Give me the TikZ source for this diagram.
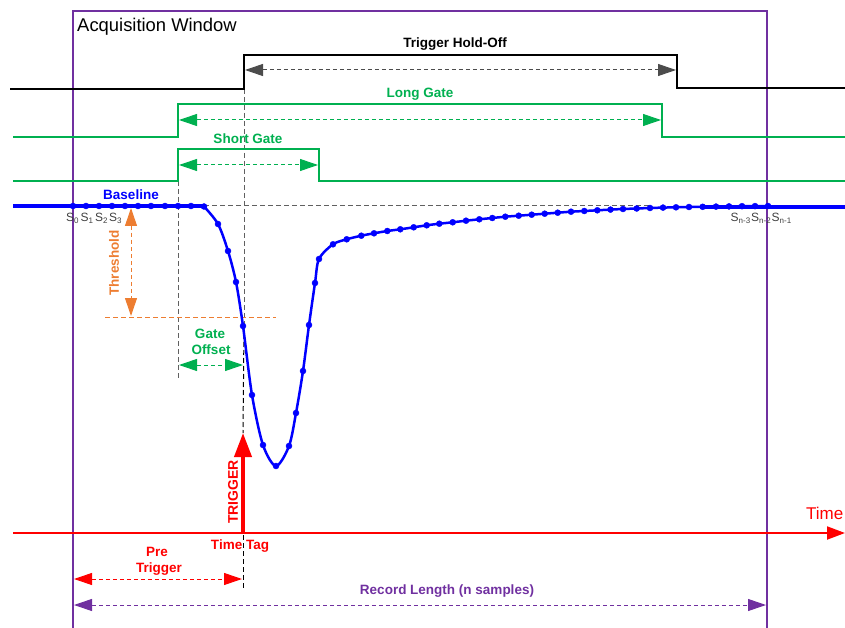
\documentclass[tikz,border=0pt]{standalone}
\usepackage{fontspec}
\setmainfont{Liberation Sans}
\usetikzlibrary{arrows.meta}
\definecolor{cgreen}{HTML}{00B050}
\definecolor{cblue}{HTML}{0000FF}
\definecolor{corange}{HTML}{ED7D31}
\definecolor{cred}{HTML}{FF0000}
\definecolor{cpurple}{HTML}{7030A0}
\definecolor{cgray}{HTML}{606060}
\newcommand{\smp}[1]{S{\fontsize{8}{9}\selectfont\raisebox{-2pt}{#1}}}
\begin{document}
\begin{tikzpicture}[x=1pt,y=-1pt,
  lbl/.style={font=\fontsize{13.5}{15}\selectfont\bfseries, inner sep=0pt},
  slbl/.style={font=\fontsize{12}{14}\selectfont, text=black!75, inner sep=0pt, anchor=base west},
  dimarrow/.style={line width=1pt, dash pattern=on 4pt off 3pt, {Triangle[length=18pt,width=12pt]}-{Triangle[length=18pt,width=12pt]}},
  guide/.style={line width=1pt, cgray, dash pattern=on 5pt off 3pt},
  signal/.style={line width=2pt},
  dots/.style={mark=*, mark size=3pt, mark options={cblue, line width=0.4pt}}
]
\useasboundingbox (0,0) rectangle (845,628);
\clip (0,0) rectangle (845,628);

% acquisition window
\draw[cpurple, line width=2pt] (73,640) -- (73,11) -- (767,11) -- (767,640);
\node[font=\fontsize{18.4}{20}\selectfont, inner sep=0pt] (acq) at (157,27) {Acquisition Window};

% coordinates
\coordinate (hoL) at (245,70);  \coordinate (hoR) at (676,70);
\coordinate (lgL) at (179,120); \coordinate (lgR) at (661,120);
\coordinate (sgL) at (179,165); \coordinate (sgR) at (318,165);
\coordinate (goL) at (179,365); \coordinate (goR) at (243,365);
\coordinate (thT) at (131,208); \coordinate (thB) at (131,316);
\coordinate (ptL) at (74,579);  \coordinate (ptR) at (242,579);
\coordinate (rlL) at (74,605);  \coordinate (rlR) at (766,605);
\coordinate (axL) at (13,533);  \coordinate (axR) at (845,533);
\coordinate (trB) at (243,533); \coordinate (trT) at (243,433);

% guide lines
\draw[guide] (178,181) -- (178,380);
\draw[guide] (244,89) -- (244,326);
\draw[guide, black] (244,326) -- (trT);
\draw[guide, black] (243,535) -- (243,588);
\draw[guide] (204,206) -- (650,206);
\draw[corange, line width=1pt, dash pattern=on 5pt off 3pt] (105,317) -- (276,317);

% trigger hold-off
\draw[signal, black, line width=1.8pt] (10,89) -- (244,89) -- (244,55) -- (677,55) -- (677,88) -- (845,88);
\draw[dimarrow, black!70] (hoL) -- (hoR);
\node[lbl] (holbl) at (455,44) {Trigger Hold-Off};

% long gate
\draw[signal, cgreen] (13,137) -- (178,137) -- (178,104) -- (662,104) -- (662,137) -- (845,137);
\draw[dimarrow, cgreen] (lgL) -- (lgR);
\node[lbl, text=cgreen] (lglbl) at (420,94) {Long Gate};

% short gate
\draw[signal, cgreen] (13,181) -- (178,181) -- (178,149) -- (319,149) -- (319,181) -- (845,181);
\draw[dimarrow, cgreen] (sgL) -- (sgR);
\node[lbl, text=cgreen] (sglbl) at (248,138.5) {Short Gate};

% baseline and pulse
\draw[cblue, line width=4pt] (13,206) -- (204,206);
\draw[cblue, line width=4pt] (700,206.7) -- (845,206.7);
\draw[cblue, line width=0pt, draw=none] plot[only marks, dots] coordinates {(73,206) (86,206) (99,206) (112,206) (125,206) (138,206) (151,206) (165,206) (178,206) (191,206)};
\draw[cblue, line width=2.5pt, dots] plot[smooth, tension=0.5] coordinates {(204,206.5) (218,224) (228,251) (236,282) (243,326) (252,395) (263,445) (276,466) (289,446) (296,413) (303,371) (309,325) (315,283) (319,259) (333,244.3) (346.7,239.3) (361.3,235.7) (374,233.3) (387.3,231) (400.3,229.3) (413.7,227.3) (426.7,225.3) (439.3,223.7) (452.7,222.3) (466,220.7) (479.3,219.3) (492.3,218) (505.3,216.7) (518.7,215.7) (531.7,214.7) (544.7,213.7) (557.7,212.7) (571,211.7) (584.3,211) (597.3,210.3) (610.5,209.6) (623,209) (636.7,208.5) (650,208) (663,207.6) (676,207.3) (689,207) (702.7,206.8) (716,206.6) (729,206.4) (742,206.2) (755,206.1) (768,206)};
\node[lbl, text=cblue] (bllbl) at (131,195) {Baseline};

% sample labels
\node[slbl] (s0) at (66,222) {\smp{0}};
\node[slbl] (s1) at (80.5,222) {\smp{1}};
\node[slbl] (s2) at (95,222) {\smp{2}};
\node[slbl] (s3) at (109,222) {\smp{3}};
\node[slbl] (sn3) at (730.5,222) {\smp{n-3}};
\node[slbl] (sn2) at (751,222) {\smp{n-2}};
\node[slbl] (sn1) at (771.5,222) {\smp{n-1}};

% threshold
\draw[dimarrow, corange] (thT) -- (thB);
\node[lbl, text=corange, rotate=90] (thlbl) at (114,263) {Threshold};

% gate offset
\draw[dimarrow, cgreen] (goL) -- (goR);
\node[lbl, text=cgreen] (golbl1) at (210,334) {Gate};
\node[lbl, text=cgreen] (golbl2) at (211,350) {Offset};

% time axis
\draw[cred, line width=2pt, -{Triangle[length=18pt,width=13pt]}] (axL) -- (axR);
\node[font=\fontsize{17}{19}\selectfont, text=cred, inner sep=0pt, anchor=west] (timelbl) at (806,513) {Time};

% trigger
\draw[cred, line width=4pt, -{Triangle[length=24pt,width=17pt]}] (trB) -- (trT);
\node[lbl, text=cred, rotate=90, font=\fontsize{14}{16}\selectfont\bfseries] (trlbl) at (233,492) {TRIGGER};
\node[lbl, text=cred] (ttlbl) at (240,546.5) {Time Tag};

% pre trigger
\draw[dimarrow, cred] (ptL) -- (ptR);
\node[lbl, text=cred] (pre1) at (157,551.7) {Pre};
\node[lbl, text=cred] (pre2) at (159,569) {Trigger};

% record length
\draw[dimarrow, cpurple] (rlL) -- (rlR);
\node[lbl, text=cpurple] (rllbl) at (447,591.5) {Record Length (n samples)};
\end{tikzpicture}
\end{document}
